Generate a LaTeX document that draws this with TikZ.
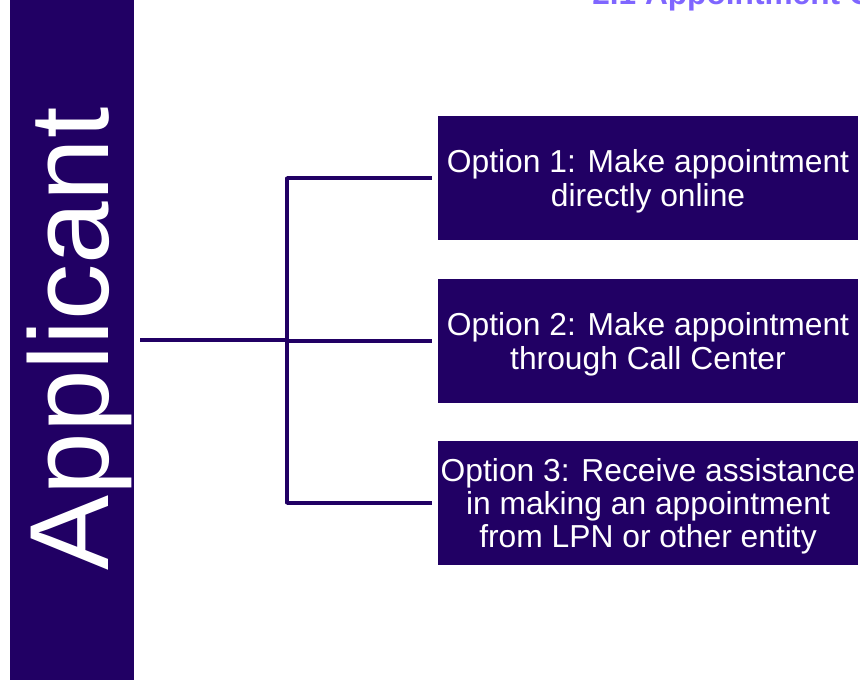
\documentclass[tikz,border=0pt]{standalone}
\usepackage{fontspec}
\setmainfont{Liberation Sans}
\definecolor{bardark}{RGB}{33,0,100}
\definecolor{titlelight}{RGB}{127,102,255}
\newcommand{\optstrut}{\rule{0pt}{21pt}}
\tikzset{
    optionbox/.style={fill=bardark, text=white, minimum width=10.5cm, minimum height=3.1cm,
        align=center, inner sep=0pt, font=\fontsize{22.6}{23.8}\selectfont},
    link/.style={draw=bardark, line width=2.2pt}
}
\begin{document}
\begin{tikzpicture}[x=0.025cm,y=-0.025cm]
            \useasboundingbox (0,0) rectangle (860,679);

            % title, cut by the page edge
            \node[anchor=base west, inner sep=0pt, text=titlelight, font=\fontsize{22.5}{24}\selectfont\bfseries] (title) at (592,4) {2.1 Appointment Options};

            % left bar
            \node[fill=bardark, minimum width=3.1cm, minimum height=17.5cm, inner sep=0pt] (applicant) at (72,340) {};
            \node[rotate=90, anchor=base, inner sep=0pt, text=white, font=\fontsize{80}{80}\selectfont] (applicantlabel) at (108,339) {Applicant};

            % options
            \node[optionbox] (opt1) at (648,178) {\optstrut Option 1: Make appointment\\directly online};
            \node[optionbox] (opt2) at (648,341) {\optstrut Option 2: Make appointment\\through Call Center};
            \node[optionbox] (opt3) at (648,503) {\optstrut Option 3: Receive assistance\\in making an appointment\\from LPN or other entity};

            % bracket
            \coordinate (split) at (287,340);
            \draw[link] ([xshift=0.15cm]applicant.east |- split) -- (split);
            \draw[link, line cap=round] (opt1.west -| split) -- (opt3.west -| split);
            \draw[link, shorten >=0.15cm] (opt1.west -| split) -- (opt1.west);
            \draw[link, shorten >=0.15cm] (opt2.west -| split) -- (opt2.west);
            \draw[link, shorten >=0.15cm] (opt3.west -| split) -- (opt3.west);
\end{tikzpicture}
\end{document}
